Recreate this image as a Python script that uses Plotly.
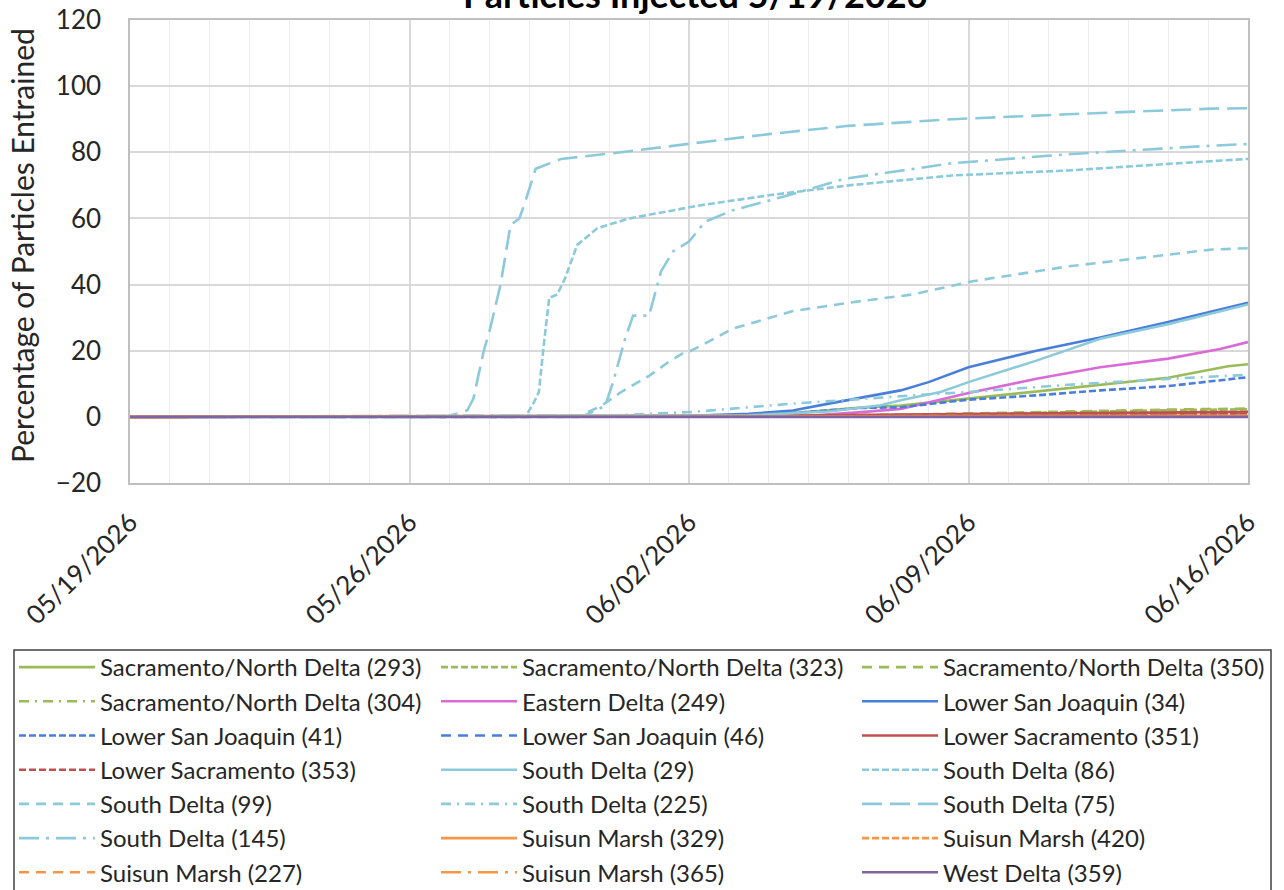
import pandas as pd
import plotly.graph_objects as go

START = pd.Timestamp("2026-05-19")
x_tick_labels = ["05/19/2026", "05/26/2026", "06/02/2026", "06/09/2026", "06/16/2026"]
y_ticks = [-20, 0, 20, 40, 60, 80, 100, 120]

# ---- series data: (day offset since 05/19/2026, percent entrained) ----
sac293_d = [0, 15.5, 17.0, 18.3, 19.3, 21.0, 22.7, 24.3, 26.0, 27.5, 28]
sac293_v = [0, 0.3, 1.5, 2.8, 3.4, 5.5, 7.7, 9.7, 11.8, 15.3, 15.9]
sac323_d = [0, 16, 20, 23, 26, 28]
sac323_v = [0, 0.2, 0.6, 1.4, 2.0, 2.3]
sac350_d = [0, 16, 20, 23, 26, 28]
sac350_v = [0, 0.2, 0.8, 1.6, 2.2, 2.5]
sac304_d = [0, 16, 20, 24, 28]
sac304_v = [0, 0.1, 0.4, 0.8, 1.2]
east249_d = [0, 17.0, 18.4, 19.3, 21.0, 22.7, 24.3, 26.0, 27.3, 28]
east249_v = [0, 0.3, 1.5, 2.4, 7.2, 11.5, 15.0, 17.6, 20.5, 22.6]
lsj34_d = [0, 14.0, 15.5, 16.6, 17.5, 18.3, 19.3, 20.0, 21.0, 22.7, 24.3, 26.0, 28]
lsj34_v = [0, 0.3, 0.9, 1.9, 4.0, 5.8, 8.0, 10.5, 15.0, 20.0, 24.0, 28.7, 34.5]
lsj41_d = [0, 15.5, 17.0, 18.3, 19.3, 21.0, 22.7, 24.3, 26.0, 28]
lsj41_v = [0, 0.3, 1.5, 2.7, 2.9, 5.2, 6.5, 8.0, 9.3, 12.0]
lsj46_d = [0, 16, 20, 24, 28]
lsj46_v = [0, 0.1, 0.3, 0.5, 0.7]
lsac351_d = [0, 16, 20, 24, 28]
lsac351_v = [0, 0.3, 0.8, 1.2, 1.5]
lsac353_d = [0, 18, 22, 28]
lsac353_v = [0, 0.2, 0.5, 1.0]
sd29_d = [0, 15.5, 17.5, 18.8, 19.3, 20.3, 21.0, 22.7, 24.3, 26.0, 28]
sd29_v = [0, 0.5, 1.6, 3.5, 5.0, 7.5, 10.5, 17.0, 23.6, 28.0, 34.0]
sd86_d = [0, 9.9, 10.1, 10.24, 10.36, 10.5, 10.7, 10.9, 11.2, 11.7, 12.5, 14.3, 16, 18, 20.6, 23.5, 26, 28]
sd86_v = [0, 0, 4, 7.5, 21.5, 36, 37, 42, 52, 57, 60, 64, 67, 70, 73, 74.5, 76.5, 78]
sd99_d = [0, 11.2, 11.8, 12.3, 13.0, 13.5, 13.9, 14.0, 14.3, 15.1, 16.6, 18.3, 19.6, 21.1, 23.5, 27.1, 28]
sd99_v = [0, 0, 3.3, 7.5, 12.4, 16.7, 19.6, 19.7, 21.5, 26.7, 32, 35, 37, 41, 45.5, 50.6, 51]
sd225_d = [0, 12.0, 14.1, 16.6, 20.0, 21.0, 23.5, 26.0, 28]
sd225_v = [0, 0.4, 1.5, 4.0, 6.8, 7.5, 9.7, 11.5, 12.7]
sd75_d = [0, 7.9, 8.2, 8.45, 8.6, 8.86, 9.0, 9.28, 9.53, 9.75, 9.87, 10.16, 10.8, 12.3, 14.3, 16, 18, 20.6, 23.5, 27.1, 28]
sd75_v = [0, 0, 1, 2, 5.5, 20, 25.7, 40, 58, 60, 64, 75, 78, 80, 83, 85.5, 88, 90, 91.5, 93.2, 93.3]
sd145_d = [0, 11.4, 11.9, 12.1, 12.4, 12.6, 13.0, 13.3, 13.6, 14.0, 14.4, 14.8, 15.1, 16.4, 17.9, 20.6, 23.5, 26.8, 28]
sd145_v = [0, 0.5, 3.3, 10.6, 23.6, 30.6, 30.6, 44, 50, 53, 59, 61, 62.5, 66.7, 72, 76.7, 79.4, 81.8, 82.5]
sm329_d = [0, 20, 28]
sm329_v = [0, 0.1, 0.3]
sm420_d = [0, 20, 28]
sm420_v = [0, 0.1, 0.2]
sm227_d = [0, 20, 28]
sm227_v = [0, 0.1, 0.3]
sm365_d = [0, 20, 28]
sm365_v = [0, 0.05, 0.2]
wd359_d = [0, 28]
wd359_v = [0, 0]

GREEN = "#9BBB59"
MAGENTA = "#DA6BD6"
BLUE = "#4A7FD9"
RED = "#C0504D"
LBLUE = "#8CCADB"
ORANGE = "#F79646"
PURPLE = "#8064A2"

SOLID = "solid"
SDASH = "7px,3px"
DASH = "10px,7px"
DASHDOT = "10px,6px,2px,6px"
LDASH = "20px,8px"
LDASHDOT = "20px,7px,3px,7px"

series = [
    ("Sacramento/North Delta (293)", sac293_d, sac293_v, GREEN, SOLID),
    ("Sacramento/North Delta (323)", sac323_d, sac323_v, GREEN, SDASH),
    ("Sacramento/North Delta (350)", sac350_d, sac350_v, GREEN, DASH),
    ("Sacramento/North Delta (304)", sac304_d, sac304_v, GREEN, DASHDOT),
    ("Eastern Delta (249)", east249_d, east249_v, MAGENTA, SOLID),
    ("Lower San Joaquin (34)", lsj34_d, lsj34_v, BLUE, SOLID),
    ("Lower San Joaquin (41)", lsj41_d, lsj41_v, BLUE, SDASH),
    ("Lower San Joaquin (46)", lsj46_d, lsj46_v, BLUE, DASH),
    ("Lower Sacramento (351)", lsac351_d, lsac351_v, RED, SOLID),
    ("Lower Sacramento (353)", lsac353_d, lsac353_v, RED, SDASH),
    ("South Delta (29)", sd29_d, sd29_v, LBLUE, SOLID),
    ("South Delta (86)", sd86_d, sd86_v, LBLUE, SDASH),
    ("South Delta (99)", sd99_d, sd99_v, LBLUE, DASH),
    ("South Delta (225)", sd225_d, sd225_v, LBLUE, DASHDOT),
    ("South Delta (75)", sd75_d, sd75_v, LBLUE, LDASH),
    ("South Delta (145)", sd145_d, sd145_v, LBLUE, LDASHDOT),
    ("Suisun Marsh (329)", sm329_d, sm329_v, ORANGE, SOLID),
    ("Suisun Marsh (420)", sm420_d, sm420_v, ORANGE, SDASH),
    ("Suisun Marsh (227)", sm227_d, sm227_v, ORANGE, DASH),
    ("Suisun Marsh (365)", sm365_d, sm365_v, ORANGE, LDASHDOT),
    ("West Delta (359)", wd359_d, wd359_v, PURPLE, SOLID),
]

FONT = "Lato, 'Open Sans', sans-serif"
TXT = "#262626"

W, H = 1284, 890
L, R, T, B = 130, 36, 20, 407
PH = H - T - B
PW = W - L - R

LEGEND_IDS = ["legend", "legend2", "legend3"]
LEGEND_X = [14, 436, 857]
LEGEND_TOP = 645

fig = go.Figure()
for i, (name, d, v, color, dash) in enumerate(series):
    xs = START + pd.to_timedelta(d, unit="D")
    fig.add_trace(go.Scatter(x=xs, y=v, name=name, mode="lines",
                             legend=LEGEND_IDS[i % 3],
                             line=dict(color=color, width=2.6, dash=dash)))

tick_dates = [START + pd.Timedelta(days=7 * i) for i in range(len(x_tick_labels))]


def legend_cfg(xpx):
    return dict(
        orientation="v",
        xref="container", yref="container",
        x=xpx / W, y=1 - LEGEND_TOP / H, xanchor="left", yanchor="top",
        itemwidth=76,
        font=dict(size=24, family=FONT, color=TXT),
        borderwidth=0, bgcolor="rgba(0,0,0,0)",
        traceorder="normal",
    )


fig.update_layout(
    width=W, height=H,
    margin=dict(l=L, r=R, t=T, b=B, autoexpand=False),
    paper_bgcolor="white", plot_bgcolor="white",
    font=dict(family=FONT, color=TXT),
    showlegend=True,
    legend=legend_cfg(LEGEND_X[0]),
    legend2=legend_cfg(LEGEND_X[1]),
    legend3=legend_cfg(LEGEND_X[2]),
    xaxis=dict(
        type="date",
        range=[START, START + pd.Timedelta(days=28)],
        tickmode="array", tickvals=tick_dates, ticktext=x_tick_labels,
        tickangle=-45,
        tickfont=dict(size=26, family=FONT, color=TXT),
        ticklabelstandoff=12,
        showgrid=True, gridcolor="#D9D9D9", gridwidth=1.5,
        minor=dict(dtick=86400000, showgrid=True, gridcolor="#EDEDED", gridwidth=1,
                   tick0=START),
        showline=True, linecolor="#BFBFBF", linewidth=1.5, mirror=True,
        ticks="", zeroline=False,
    ),
    yaxis=dict(
        range=[-20, 120], tickmode="array", tickvals=y_ticks,
        tickfont=dict(size=26, family=FONT, color=TXT),
        showgrid=True, gridcolor="#D9D9D9", gridwidth=1.5,
        showline=True, linecolor="#BFBFBF", linewidth=1.5, mirror=True,
        zeroline=False, ticks="", ticklabelstandoff=22,
    ),
    shapes=[
        dict(type="rect", xref="paper", yref="paper",
             x0=(14 - L) / PW, x1=(1271 - L) / PW,
             y0=(T + PH - 650) / PH, y1=(T + PH - 905) / PH,
             line=dict(color="#404040", width=1.5), fillcolor="rgba(0,0,0,0)",
             layer="below"),
    ],
    annotations=[
        dict(text="Percentage of Particles Entrained", textangle=-90,
             xref="paper", yref="paper", x=(22 - L) / PW, y=(483 - 246) / PH,
             xanchor="center", yanchor="middle", showarrow=False,
             font=dict(size=30, family=FONT, color=TXT)),
        dict(text="<b>Particles Injected 5/19/2026</b>",
             xref="paper", yref="paper", x=(695 - L) / PW, y=1 + 26 / PH,
             xanchor="center", yanchor="middle", showarrow=False,
             font=dict(size=36, family=FONT, color="#000000")),
    ],
)

fig.write_html(
    "out.html",
    config={"displayModeBar": False},
    post_script="document.body.style.margin='0';document.body.style.overflow='hidden';",
)
